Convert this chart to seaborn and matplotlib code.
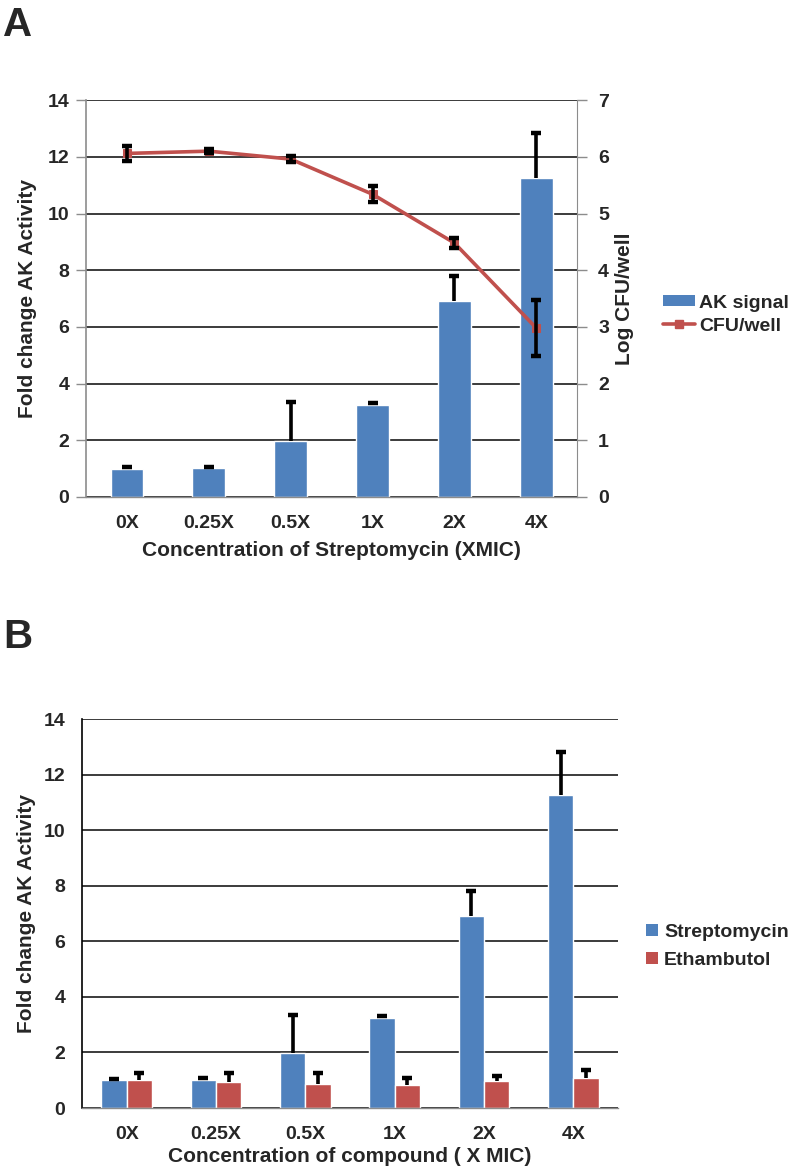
import numpy as np
import pandas as pd
import matplotlib.pyplot as plt
import seaborn as sns
from matplotlib.patches import Patch
from matplotlib.lines import Line2D

# Values
CONC = ['0X', '0.25X', '0.5X', '1X', '2X', '4X']
AK_SIGNAL = [1.0, 1.02, 1.98, 3.25, 6.92, 11.25]
AK_ERR = [0.05, 0.05, 1.37, 0.05, 0.88, 1.58]
CFU = [6.06, 6.10, 5.96, 5.34, 4.48, 2.98]
CFU_ERR = [0.13, 0.03, 0.05, 0.14, 0.08, 0.49]
ETHAMBUTOL = [1.0, 0.95, 0.87, 0.83, 0.97, 1.08]
ETH_ERR = [0.27, 0.32, 0.40, 0.26, 0.17, 0.30]

BLUE = '#4F81BD'
RED = '#C0504D'
GRAY = '#8C8C8C'

sns.set_style('white')
plt.rcParams['font.family'] = ['Liberation Sans', 'DejaVu Sans']
plt.rcParams['font.weight'] = 'bold'

fig = plt.figure(figsize=(8, 11.74), dpi=100)
axA = fig.add_axes([0.1075, 0.5767, 0.614, 0.338])
axB = fig.add_axes([0.1025, 0.0562, 0.67, 0.3313])


def style_axis(ax, left_color):
    ax.set_ylim(0, 14)
    ax.set_yticks(range(0, 15, 2))
    ax.set_xlim(-0.5, 5.5)
    ax.set_xticks(range(len(CONC)))
    ax.set_xticklabels(CONC)
    ax.set_xticks(np.arange(-0.5, 6, 1), minor=True)
    ax.tick_params(axis='x', which='major', length=0, labelsize=14, pad=13)
    ax.tick_params(axis='x', which='minor', length=7, color=GRAY, width=1)
    ax.tick_params(axis='y', length=7, color=GRAY, width=1, labelsize=14, pad=5)
    ax.grid(axis='y', color='#1a1a1a', linewidth=1.2)
    ax.set_axisbelow(True)
    for s in ['top', 'right']:
        ax.spines[s].set_visible(False)
    ax.spines['left'].set_color(left_color)
    ax.spines['bottom'].set_color(GRAY)
    ax.spines['left'].set_linewidth(1.2)
    ax.spines['bottom'].set_linewidth(1.0)


def upper_err(ax, xs, ys, errs):
    # Excel style: only the upper half of the error bar, one cap on top
    tops = np.array(ys) + np.array(errs)
    ax.vlines(xs, ys, tops, colors='black', linewidth=2.6, zorder=5)
    ax.plot(xs, tops, ls='none', marker='_', markersize=7, markeredgewidth=3.2,
            color='black', zorder=5)


# ---- Panel A ----
sns.barplot(x=CONC, y=AK_SIGNAL, color=BLUE, width=0.4, saturation=1, ax=axA)
style_axis(axA, GRAY)
bar_x = [p.get_x() + p.get_width() / 2 for p in axA.containers[0]]
upper_err(axA, bar_x, AK_SIGNAL, AK_ERR)
axA.set_xlabel('Concentration of Streptomycin (XMIC)', fontsize=15, fontweight='bold')
axA.set_ylabel('Fold change AK Activity', fontsize=15, fontweight='bold')
axA.xaxis.set_label_coords(0.5, -0.112)
axA.yaxis.set_label_coords(-0.10, 0.5)

axA2 = axA.twinx()
sns.lineplot(x=np.arange(len(CONC)), y=CFU, color=RED, linewidth=2.6, marker='s',
             markersize=6, markeredgecolor=RED, ax=axA2)
axA2.errorbar(np.arange(len(CONC)), CFU, yerr=CFU_ERR, fmt='none', ecolor='black',
              elinewidth=2.6, capsize=3.5, capthick=3.2, zorder=5)
axA2.set_ylim(0, 7)
axA2.set_yticks(range(0, 8))
axA2.set_xlim(-0.5, 5.5)
axA2.tick_params(axis='y', length=7, color=GRAY, width=1, labelsize=14, pad=8)
for s in ['top', 'left', 'bottom']:
    axA2.spines[s].set_visible(False)
axA2.spines['right'].set_color(GRAY)
axA2.set_ylabel('Log CFU/well', fontsize=15, fontweight='bold')
axA2.yaxis.set_label_coords(1.077, 0.5)

handlesA = [Patch(facecolor=BLUE, edgecolor='none', label='AK signal'),
            Line2D([], [], color=RED, linewidth=2.6, marker='s', markersize=6,
                   label='CFU/well')]
fig.legend(handles=handlesA, loc='center left', bbox_to_anchor=(0.829, 0.732),
           frameon=False, fontsize=14, handlelength=1.65, handleheight=0.5,
           handletextpad=0.2, labelspacing=0.3, borderpad=0, borderaxespad=0)

# ---- Panel B ----
df_b = pd.DataFrame({
    'conc': CONC * 2,
    'fold': AK_SIGNAL + ETHAMBUTOL,
    'drug': ['Streptomycin'] * len(CONC) + ['Ethambutol'] * len(CONC),
})
sns.barplot(data=df_b, x='conc', y='fold', hue='drug', palette=[BLUE, RED],
            width=0.57, gap=0, saturation=1, legend=False, ax=axB)
style_axis(axB, 'black')
for cont, vals, errs in zip(axB.containers, [AK_SIGNAL, ETHAMBUTOL], [AK_ERR, ETH_ERR]):
    xs = [p.get_x() + p.get_width() / 2 for p in cont]
    upper_err(axB, xs, vals, errs)
axB.set_xlabel('Concentration of compound ( X MIC)', fontsize=15, fontweight='bold')
axB.set_ylabel('Fold change AK Activity', fontsize=15, fontweight='bold')
axB.xaxis.set_label_coords(0.5, -0.10)
axB.yaxis.set_label_coords(-0.085, 0.5)

handlesB = [Patch(facecolor=BLUE, edgecolor='none', label='Streptomycin'),
            Patch(facecolor=RED, edgecolor='none', label='Ethambutol')]
fig.legend(handles=handlesB, loc='center left', bbox_to_anchor=(0.808, 0.194),
           frameon=False, fontsize=14, handlelength=0.6, handleheight=0.6,
           handletextpad=0.3, labelspacing=0.55, borderpad=0, borderaxespad=0)

fig.text(0.004, 1 - 6 / 1174, 'A', fontsize=29, fontweight='bold', va='top')
fig.text(0.004, 1 - 618 / 1174, 'B', fontsize=29, fontweight='bold', va='top')

fig.savefig('out.png', dpi=100)
